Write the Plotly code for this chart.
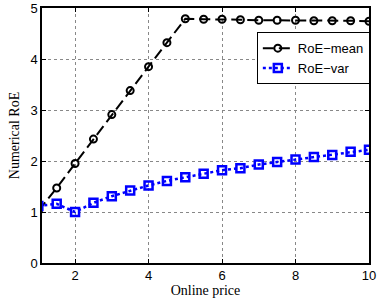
import plotly.graph_objects as go

price = [1, 1.5, 2, 2.5, 3, 3.5, 4, 4.5, 5, 5.5, 6, 6.5, 7, 7.5, 8, 8.5, 9, 9.5, 10]
roe_mean = [1.02, 1.47, 1.95, 2.43, 2.91, 3.38, 3.85, 4.32, 4.79, 4.78, 4.78, 4.77, 4.76, 4.76, 4.76, 4.75, 4.75, 4.75, 4.74]
roe_var = [1.12, 1.16, 1.00, 1.18, 1.31, 1.42, 1.52, 1.61, 1.68, 1.75, 1.82, 1.86, 1.93, 1.98, 2.03, 2.08, 2.12, 2.18, 2.22]
x_ticks = [2, 4, 6, 8, 10]
y_ticks = [0, 1, 2, 3, 4, 5]

fig = go.Figure()
fig.add_trace(go.Scatter(
    x=price, y=roe_mean, name="RoE−mean", mode="lines+markers",
    line=dict(color="black", width=2, dash="11px,5px"),
    marker=dict(symbol="circle-open", size=7, color="black", line=dict(width=2)),
))
fig.add_trace(go.Scatter(
    x=price, y=roe_var, name="RoE−var", mode="lines+markers",
    line=dict(color="#0000ff", width=2.5, dash="dot"),
    marker=dict(symbol="square-open", size=8, color="#0000ff", line=dict(width=2.5)),
))

axis_common = dict(
    showline=True, linecolor="black", linewidth=1.5, mirror="ticks",
    ticks="inside", ticklen=4, tickcolor="black",
    showgrid=True, gridcolor="#888888", griddash="dot", gridwidth=1,
    zeroline=False, automargin=False,
    tickfont=dict(family="Liberation Sans, Arial", size=13, color="black"),
)
fig.update_xaxes(range=[1.1, 10], tickvals=x_ticks,
                 title=dict(text="Online price", font=dict(family="Liberation Serif, Times New Roman", size=14, color="black"), standoff=2),
                 **axis_common)
fig.update_yaxes(range=[0, 5], tickvals=y_ticks,
                 title=dict(text="Numerical RoE", font=dict(family="Liberation Serif, Times New Roman", size=14, color="black"), standoff=8),
                 **axis_common)

fig.update_layout(
    width=380, height=301,
    margin=dict(l=42, r=11, t=8, b=38, autoexpand=False),
    paper_bgcolor="white", plot_bgcolor="white",
    showlegend=True,
    legend=dict(x=0.657, y=0.905, xanchor="left", yanchor="top",
                bgcolor="white", bordercolor="black", borderwidth=1,
                font=dict(family="Liberation Sans, Arial", size=13, color="black"),
                tracegroupgap=0, itemwidth=30),
)

fig.write_html("out.html", config={"displayModeBar": False},
               post_script="document.body.style.margin='0';document.body.style.overflow='hidden';")
